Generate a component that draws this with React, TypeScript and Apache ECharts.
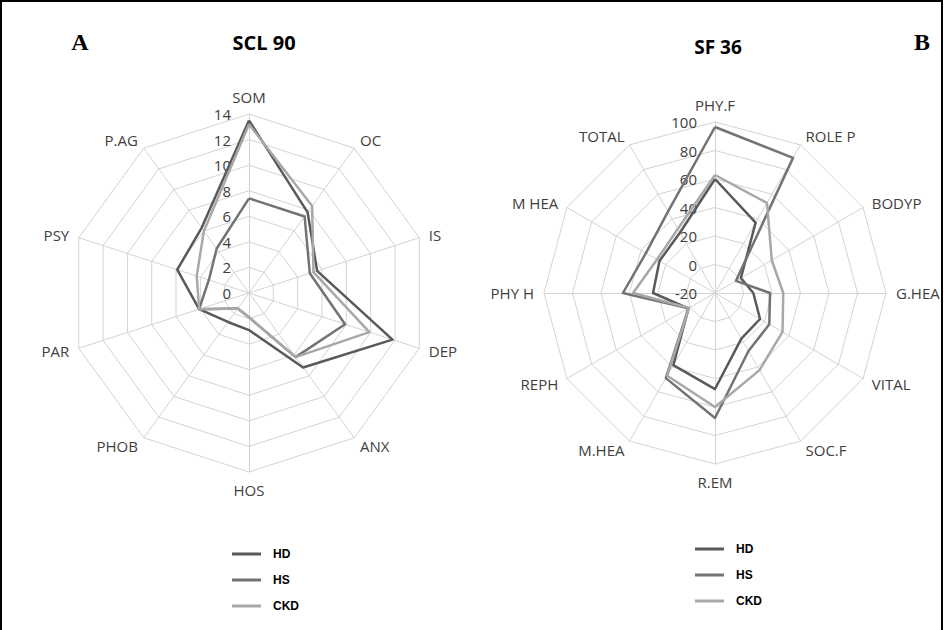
import React, { useEffect, useRef } from "react";
import * as echarts from "echarts";

const sclAxes = ["SOM", "OC", "IS", "DEP", "ANX", "HOS", "PHOB", "PAR", "PSY", "P.AG"];
const sclHD = [13.5, 7.8, 5.6, 11.8, 7.2, 2.9, 2.8, 4.1, 5.9, 6.3];
const sclHS = [7.4, 7.4, 5.0, 7.9, 6.2, 1.9, 1.5, 4.1, 3.3, 4.3];
const sclCKD = [13.2, 8.4, 5.3, 9.9, 6.2, 1.9, 1.5, 4.1, 4.3, 6.0];

const sfAxes = ["PHY.F", "ROLE P", "BODYP", "G.HEA", "VITAL", "SOC.F", "R.EM", "M.HEA", "REPH", "PHY H", "M HEA", "TOTAL"];
const sfHS = [96.5, 89.5, -3, 18.6, 24, 27, 67.7, 49, 1.5, 44.6, 36, 46];
const sfHD = [60, 37, 1, 6.9, 16.5, 17, 47.4, 38.5, 1.5, 23.5, 25, 29];
const sfCKD = [62.8, 53, 26, 27.9, 34.7, 42.5, 60, 47, 1, 37.5, 27, 32];

const groups = ["HD", "HS", "CKD"];
const colors: Record<string, string> = { HD: "#595959", HS: "#737373", CKD: "#a8a8a8" };

// ECharts radar runs counter-clockwise; reorder so indicators run clockwise
function cw<T>(arr: T[]): T[] {
  return [arr[0], ...arr.slice(1).reverse()];
}

const labelFont = "'Open Sans', 'Noto Sans', sans-serif";

function radarCfg(axes: string[], min: number, max: number, split: number, center: number[], radius: number) {
  return {
    center,
    radius,
    startAngle: 90,
    splitNumber: split,
    shape: "polygon",
    nameGap: 10,
    axisName: { color: "#404040", fontSize: 15, fontFamily: labelFont },
    splitLine: { lineStyle: { color: "#d3d3d3", width: 1 } },
    splitArea: { show: false },
    axisLine: { lineStyle: { color: "#d3d3d3", width: 1 } },
    axisTick: { show: false },
    axisLabel: { show: false, color: "#404040", fontSize: 15, fontFamily: labelFont, margin: 18 },
    indicator: cw(axes).map((n, i) =>
      i === 0 ? { name: n, min, max, axisLabel: { show: true } } : { name: n, min, max }
    ),
  };
}

function item(name: string, vals: number[]) {
  return {
    name,
    value: cw(vals),
    lineStyle: { color: colors[name], width: 2.5 },
    itemStyle: { color: colors[name] },
  };
}

function legendCfg(left: number, top: number) {
  return {
    left,
    top,
    orient: "vertical",
    icon: "rect",
    itemWidth: 29,
    itemHeight: 3,
    itemGap: 14,
    data: groups,
    textStyle: {
      color: "#000",
      fontSize: 12,
      fontWeight: "bold",
      fontFamily: "'Liberation Sans', Arial, sans-serif",
      padding: [0, 0, 0, 7],
    },
  };
}

export default function App() {
  const ref = useRef<HTMLDivElement>(null);
  useEffect(() => {
    if (!ref.current) return;
    const chart = echarts.init(ref.current, undefined, { renderer: "svg" });
    chart.setOption({
      animation: false,
      backgroundColor: "#fff",
      radar: [
        radarCfg(sclAxes, 0, 14, 7, [249, 293], 179),
        radarCfg(sfAxes, -20, 100, 6, [715, 293], 171),
      ],
      legend: [legendCfg(227, 543), legendCfg(690, 538)],
      series: [
        {
          type: "radar",
          radarIndex: 0,
          symbol: "none",
          data: [item("HD", sclHD), item("HS", sclHS), item("CKD", sclCKD)],
        },
        {
          type: "radar",
          radarIndex: 1,
          symbol: "none",
          data: [item("HD", sfHD), item("HS", sfHS), item("CKD", sfCKD)],
        },
      ],
      graphic: [
        {
          type: "rect",
          shape: { x: 1, y: 1, width: 941, height: 640 },
          style: { fill: "none", stroke: "#000", lineWidth: 2 },
          silent: true,
        },
        {
          type: "text",
          x: 80,
          y: 42,
          style: { text: "A", font: "bold 24px 'Liberation Serif', serif", fill: "#000", align: "center", verticalAlign: "middle" },
        },
        {
          type: "text",
          x: 264,
          y: 42,
          style: { text: "SCL 90", font: "bold 20px 'Open Sans', sans-serif", fill: "#000", align: "center", verticalAlign: "middle" },
        },
        {
          type: "text",
          x: 718,
          y: 47,
          style: { text: "SF 36", font: "bold 19px 'Open Sans', sans-serif", fill: "#000", align: "center", verticalAlign: "middle" },
        },
        {
          type: "text",
          x: 922,
          y: 42,
          style: { text: "B", font: "bold 24px 'Liberation Serif', serif", fill: "#000", align: "center", verticalAlign: "middle" },
        },
      ],
    });
    return () => chart.dispose();
  }, []);
  return <div ref={ref} style={{ position: "absolute", left: 0, top: 0, width: 944, height: 630 }} />;
}
